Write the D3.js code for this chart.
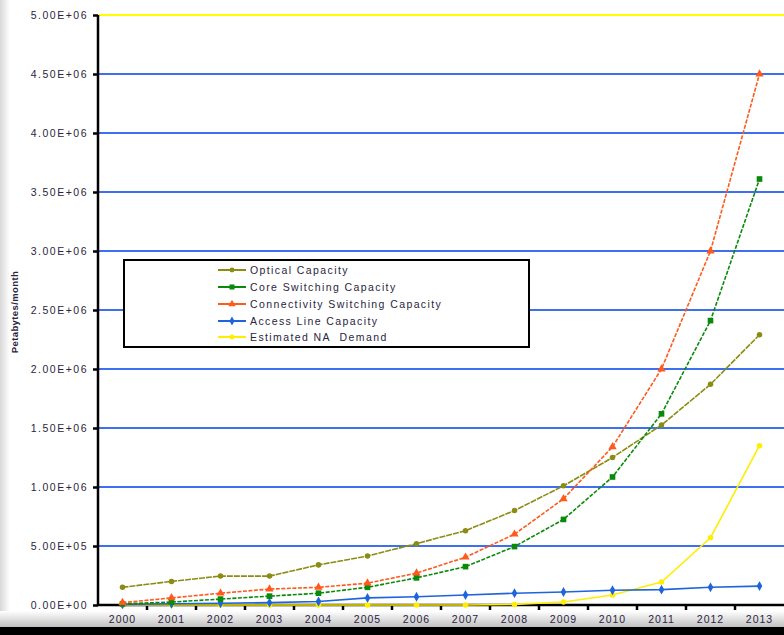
<!DOCTYPE html>
<html>
<head>
<meta charset="utf-8">
<script src="https://cdn.jsdelivr.net/npm/d3@7/dist/d3.min.js"></script>
<style>
html,body{margin:0;padding:0;background:#fff;}
svg{display:block;}
</style>
</head>
<body>
<script>
const years = ["2000","2001","2002","2003","2004","2005","2006","2007","2008","2009","2010","2011","2012","2013"];
const yTicks = [0, 5e5, 1e6, 1.5e6, 2e6, 2.5e6, 3e6, 3.5e6, 4e6, 4.5e6, 5e6];
const tickLabels = ["0.00E+00","5.00E+05","1.00E+06","1.50E+06","2.00E+06","2.50E+06","3.00E+06","3.50E+06","4.00E+06","4.50E+06","5.00E+06"];
const seriesNames = ["Optical Capacity","Core Switching Capacity","Connectivity Switching Capacity","Access Line Capacity","Estimated NA\u00a0 Demand"];
const optical = [1.5e5, 2.0e5, 2.45e5, 2.45e5, 3.4e5, 4.15e5, 5.2e5, 6.3e5, 8.0e5, 1.01e6, 1.25e6, 1.525e6, 1.87e6, 2.29e6];
const coreSwitching = [1.0e4, 2.5e4, 5.0e4, 7.5e4, 1.0e5, 1.5e5, 2.3e5, 3.25e5, 4.95e5, 7.25e5, 1.085e6, 1.62e6, 2.41e6, 3.61e6];
const connectivitySwitching = [2.0e4, 6.0e4, 1.0e5, 1.35e5, 1.5e5, 1.85e5, 2.7e5, 4.05e5, 6.0e5, 9.0e5, 1.34e6, 2.0e6, 3.0e6, 4.5e6];
const accessLine = [5e3, 1.0e4, 1.5e4, 2.0e4, 3.0e4, 6.0e4, 7.0e4, 8.5e4, 1.0e5, 1.1e5, 1.25e5, 1.3e5, 1.5e5, 1.6e5];
const naDemand = [0, 0, 0, 0, 0, 0, 0, 0, 5e3, 2.5e4, 8.5e4, 1.95e5, 5.7e5, 1.35e6];

const W = 784, H = 635;
const mLeft = 98, mRight = 784, mTop = 15, mBottom = 605;
const FONT = "Liberation Sans, Arial, sans-serif";
const TXT = "#2a2440";

const svg = d3.select("body").append("svg").attr("width", W).attr("height", H);

// background shading (screenshot edges)
const defs = svg.append("defs");
const lg = defs.append("linearGradient").attr("id","lshade").attr("x1",0).attr("x2",1).attr("y1",0).attr("y2",0);
lg.append("stop").attr("offset","0%").attr("stop-color","#d8d8d8");
lg.append("stop").attr("offset","100%").attr("stop-color","#ffffff");
const bgr = defs.append("linearGradient").attr("id","bshade").attr("x1",0).attr("x2",0).attr("y1",0).attr("y2",1);
bgr.append("stop").attr("offset","0%").attr("stop-color","#ffffff");
bgr.append("stop").attr("offset","100%").attr("stop-color","#bdbdbd");
svg.append("rect").attr("x",0).attr("y",0).attr("width",W).attr("height",H).attr("fill","#fff");
svg.append("rect").attr("x",0).attr("y",0).attr("width",10).attr("height",H).attr("fill","url(#lshade)");
svg.append("rect").attr("x",0).attr("y",611).attr("width",W).attr("height",17).attr("fill","url(#bshade)");
svg.append("rect").attr("x",0).attr("y",627).attr("width",W).attr("height",8).attr("fill","#000");

const x = d3.scaleBand().domain(years).range([mLeft, mRight]).padding(0);
const y = d3.scaleLinear().domain([0, 5e6]).range([mBottom, mTop]);
const cx = d => x(d) + x.bandwidth() / 2;

// gridlines
svg.append("g").selectAll("line").data(yTicks.filter(v => v > 0)).join("line")
  .attr("x1", mLeft).attr("x2", mRight)
  .attr("y1", d => y(d)).attr("y2", d => y(d))
  .attr("stroke", d => d === 5e6 ? "#ffff00" : "#3d6ff0")
  .attr("stroke-width", 2.2);

// Y axis
const yAxis = d3.axisLeft(y).tickValues(yTicks).tickFormat((d, i) => tickLabels[i]).tickSize(5).tickPadding(5);
const gy = svg.append("g").attr("transform", `translate(${mLeft},0)`).call(yAxis);
gy.select(".domain").attr("stroke", "#000").attr("stroke-width", 2.5).attr("d", `M0,${mTop}V${mBottom}`);
gy.selectAll(".tick line").attr("stroke", "#000").attr("stroke-width", 2.5);
gy.selectAll(".tick text").attr("font-family", FONT).attr("font-size", 10.5)
  .attr("fill", TXT).attr("letter-spacing", "1.5px");

// X axis
const xAxis = d3.axisBottom(x).tickSize(0).tickPadding(11);
const gx = svg.append("g").attr("transform", `translate(0,${mBottom})`).call(xAxis);
gx.select(".domain").attr("stroke", "#000").attr("stroke-width", 2.5).attr("d", `M${mLeft},0H${mRight}`);
gx.selectAll(".tick text").attr("font-family", FONT).attr("font-size", 10.5)
  .attr("fill", TXT).attr("letter-spacing", "1px");
// tick marks at band boundaries
svg.append("g").selectAll("line").data(years.slice(1)).join("line")
  .attr("x1", d => x(d)).attr("x2", d => x(d))
  .attr("y1", mBottom).attr("y2", mBottom + 5)
  .attr("stroke", "#000").attr("stroke-width", 2.5);

// y title
svg.append("text").attr("transform", "translate(18,312) rotate(-90)")
  .attr("text-anchor", "middle").attr("font-family", FONT)
  .attr("font-size", 9.5).attr("font-weight", "bold").attr("fill", TXT)
  .attr("letter-spacing", "0.4px")
  .text("Petabytes/month");

const series = [
  {name: seriesNames[0], values: optical, color: "#8c8c14", marker: "circle", dash: "6,1"},
  {name: seriesNames[1], values: coreSwitching, color: "#0a8a0a", marker: "square", dash: "4,1.5"},
  {name: seriesNames[2], values: connectivitySwitching, color: "#ff5a1e", marker: "triangle", dash: "4,1.5"},
  {name: seriesNames[3], values: accessLine, color: "#1e64dc", marker: "diamond", dash: null},
  {name: seriesNames[4], values: naDemand, color: "#ffee00", marker: "circle", dash: null}
];

const symType = {circle: d3.symbolCircle, square: d3.symbolSquare, triangle: d3.symbolTriangle, diamond: d3.symbolDiamond};
const symSize = {circle: 24, square: 32, triangle: 30, diamond: 28};

const line = d3.line().x((d, i) => cx(years[i])).y(d => y(d));

const order = [4, 3, 0, 1, 2];
order.forEach(k => {
  const s = series[k];
  const g = svg.append("g");
  g.append("path").attr("d", line(s.values)).attr("fill", "none")
    .attr("stroke", s.color).attr("stroke-width", 1.6)
    .attr("stroke-dasharray", s.dash);
  g.selectAll("path.m").data(s.values).join("path").attr("class", "m")
    .attr("transform", (d, i) => `translate(${cx(years[i])},${y(d)})`)
    .attr("d", d3.symbol().type(symType[s.marker]).size(symSize[s.marker]))
    .attr("fill", s.color);
});

// legend
const lgx = 124, lgy = 260, lgw = 405, lgh = 87;
svg.append("rect").attr("x", lgx).attr("y", lgy).attr("width", lgw).attr("height", lgh)
  .attr("fill", "#fff").attr("stroke", "#000").attr("stroke-width", 2);
const rowsY = [270, 287, 304, 321, 337];
series.forEach((s, i) => {
  const g = svg.append("g").attr("transform", `translate(0,${rowsY[i]})`);
  g.append("line").attr("x1", 218).attr("x2", 246).attr("y1", 0).attr("y2", 0)
    .attr("stroke", s.color).attr("stroke-width", 2);
  g.append("path").attr("transform", "translate(232,0)")
    .attr("d", d3.symbol().type(symType[s.marker]).size(symSize[s.marker] * 0.8)).attr("fill", s.color);
  g.append("text").attr("x", 250).attr("y", 0).attr("dy", "0.35em")
    .attr("font-family", FONT).attr("font-size", 10.5)
    .attr("letter-spacing", "1.4px").attr("fill", TXT).text(s.name);
});
</script>
</body>
</html>
